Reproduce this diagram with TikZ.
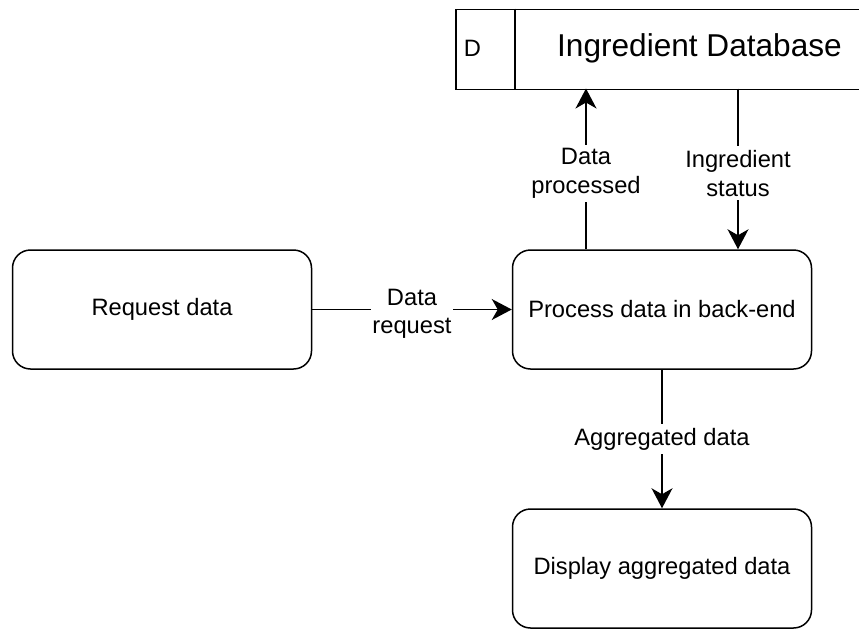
\documentclass[tikz,border=0pt]{standalone}
\usepackage{fontspec}
\setmainfont{Liberation Sans}
\usetikzlibrary{arrows.meta}
\begin{document}
\begin{tikzpicture}[x=1pt,y=-1pt,
  line width=1.5pt,
  proc/.style={draw, rounded corners=18pt, minimum width=299pt, minimum height=119pt,
    inner sep=0pt, font=\fontsize{23.7}{28}\selectfont},
  flow/.style={-{Stealth[length=20pt,width=21pt,inset=6pt]}},
  lbl/.style={fill=white, align=center, inner xsep=1pt, inner ysep=4pt,
    font=\fontsize{23.7}{28.5}\selectfont},
  lbltwo/.style={lbl, yshift=-4.5pt}]
  \useasboundingbox (0,0) rectangle (859,629);
  \clip (0,0) rectangle (859,629);

  % processes
  \node[proc] (req)  at (162,309.5) {Request data};
  \node[proc] (back) at (662,309.5) {Process data in back-end};
  \node[proc] (disp) at (662,568.5) {Display aggregated data};

  % data store (open on the right)
  \node[draw, minimum width=440pt, minimum height=80pt, inner sep=0pt, anchor=north west]
    (db) at (455,8.5) {};
  \draw (515,8.5) -- (515,88.5);
  \node[anchor=west, inner sep=0pt, font=\fontsize{23.7}{28}\selectfont] (dbid) at (463,48.5) {D};
  \node[inner sep=0pt, font=\fontsize{31.6}{36}\selectfont] (dbname) at (699.5,48.5) {Ingredient Database};

  \coordinate (dbin)  at (586,88.5);
  \coordinate (dbout) at (738,88.5);

  % flows
  \draw[flow] (req.east) -- node[lbltwo] {Data\\request} (back.west);
  \draw[flow] (back.north -| dbin) -- node[lbltwo] {Data\\processed} (dbin);
  \draw[flow] (dbout) -- node[lbltwo] {Ingredient\\status} (back.north -| dbout);
  \draw[flow] (back.south) -- node[lbl] {Aggregated data} (disp.north);
\end{tikzpicture}
\end{document}
